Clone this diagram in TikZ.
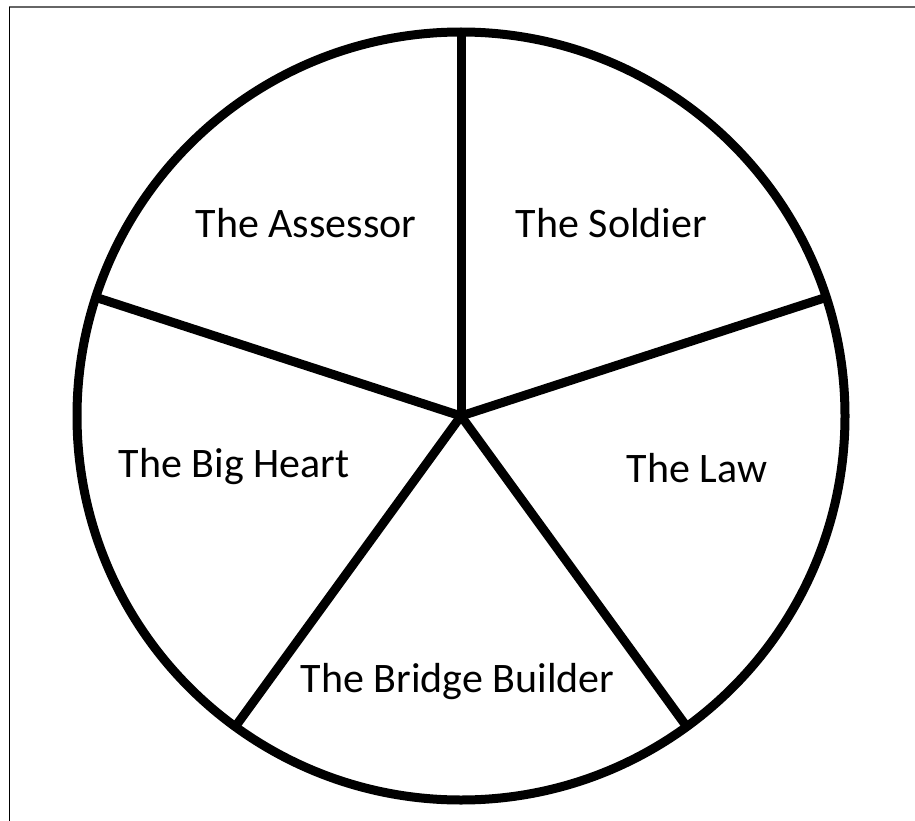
\documentclass[tikz,border=0pt]{standalone}
\usepackage{fontspec}
\setmainfont{Carlito}
\begin{document}
\begin{tikzpicture}[x=1pt,y=-1pt,
  wheel/.style={line width=9pt,draw=black},
  label/.style={anchor=base,inner sep=0pt,font=\fontsize{42}{48}\selectfont},
  frametop/.style={draw=gray!80!black,line width=1.5pt},
  frameleft/.style={draw=black,line width=1pt}]
\useasboundingbox (0,0) rectangle (915,821);
\coordinate (tl) at (9,7);
\coordinate (tr) at (915,7);
\coordinate (bl) at (9,821);
\draw[frametop] (tl) -- (tr);
\draw[frameleft] (tl) -- (bl);
\coordinate (c) at (461,416);
\draw[wheel] (c) circle[radius=384];
\foreach \a [count=\i] in {90,162,234,306,18}{
  \coordinate (s\i) at ([shift={(\a:384pt)}]461pt,-416pt);
}
\foreach \i in {1,...,5}{
  \draw[wheel,line cap=butt] (c) -- (s\i);
}
\node[label] (assessor) at (306,237) {The Assessor};
\node[label] (soldier) at (611.5,237) {The Soldier};
\node[label] (bigheart) at (234,477) {The Big Heart};
\node[label] (law) at (697,482) {The Law};
\node[label] (bridge) at (457.5,692) {The Bridge Builder};
\end{tikzpicture}
\end{document}
